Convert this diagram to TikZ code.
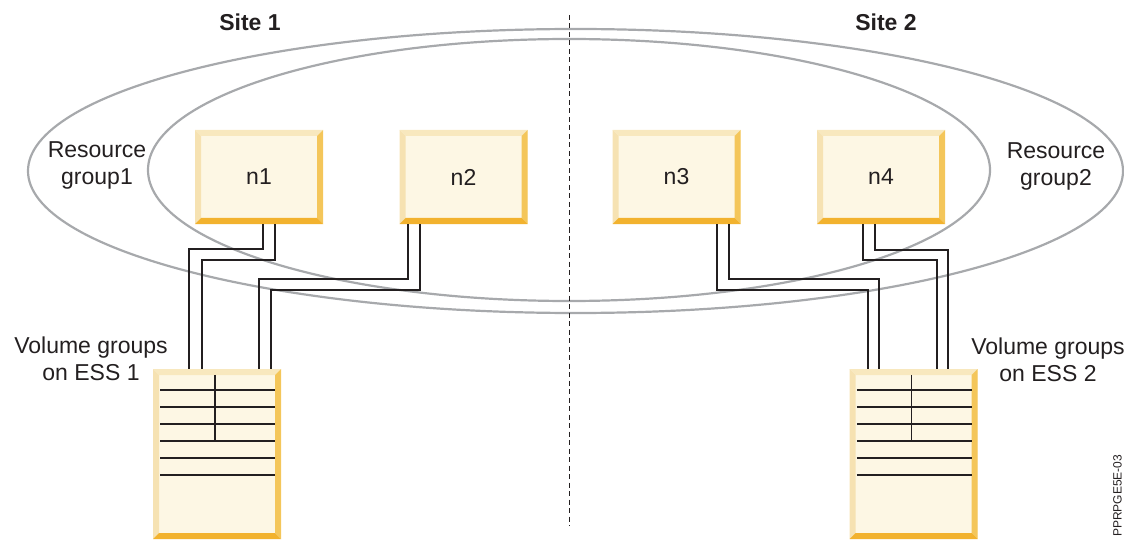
\documentclass[tikz,border=0pt]{standalone}
\usepackage{fontspec}
\setmainfont{Liberation Sans}
\usetikzlibrary{calc}
\definecolor{ink}{HTML}{231F20}
\definecolor{face}{HTML}{FDF7E4}
\definecolor{bevL}{HTML}{F6E2B2}
\definecolor{bevT}{HTML}{F8E8BE}
\definecolor{bevR}{HTML}{F4C65A}
\definecolor{bevB}{HTML}{F2B22E}
\definecolor{ring}{HTML}{A7A9AC}
\newcommand\lab{\fontsize{23}{27}\selectfont}
\begin{document}
\begin{tikzpicture}[x=1pt,y=-1pt,
  box/.style={rectangle, inner sep=0pt, fill=face, font=\lab, text=ink,
    path picture={
      \coordinate (bnw) at (path picture bounding box.north west);
      \coordinate (bne) at (path picture bounding box.north east);
      \coordinate (bsw) at (path picture bounding box.south west);
      \coordinate (bse) at (path picture bounding box.south east);
      \fill[bevL] (bnw) -- ([xshift=6pt,yshift=-6pt]bnw) -- ([xshift=6pt,yshift=6pt]bsw) -- (bsw) -- cycle;
      \fill[bevT] (bnw) -- (bne) -- ([xshift=-6pt,yshift=-6pt]bne) -- ([xshift=6pt,yshift=-6pt]bnw) -- cycle;
      \fill[bevR] (bne) -- (bse) -- ([xshift=-6pt,yshift=6pt]bse) -- ([xshift=-6pt,yshift=-6pt]bne) -- cycle;
      \fill[bevB] (bsw) -- (bse) -- ([xshift=-6pt,yshift=6pt]bse) -- ([xshift=6pt,yshift=6pt]bsw) -- cycle;
    }},
  nodebox/.style={box, minimum width=128pt, minimum height=94pt},
  essbox/.style={box, minimum width=128pt, minimum height=170pt},
  label/.style={font=\lab, text=ink, align=center, inner sep=0pt},
  site/.style={font=\lab\bfseries, text=ink, inner sep=0pt},
  cable/.style={draw=ink, line width=1.8pt},
  grid/.style={draw=ink, line width=1.4pt},
  group/.style={draw=ring, line width=2.2pt},
]
\useasboundingbox (0,0) rectangle (1124,540);

% resource group ellipses (nested)
\draw[group] (575.5,171) ellipse [x radius=547.5, y radius=142];
\draw[group] (569,170) ellipse [x radius=421, y radius=131];

% site divider
\coordinate (dtop) at (569,15);
\coordinate (dbot) at (569,526);
\draw[ink, line width=1pt, dash pattern=on 5pt off 3.5pt] (dtop) -- (dbot);

% site labels
\node[site] (s1) at (250,22) {Site 1};
\node[site] (s2) at (886,22) {Site 2};

% nodes
\node[nodebox] (n1) at (259,177) {n1};
\node[nodebox] (n2) at (463.5,177) {n2};
\node[nodebox] (n3) at (676.5,177) {n3};
\node[nodebox] (n4) at (881,177) {n4};

% storage
\node[essbox] (ess1) at (217,454) {};
\node[essbox] (ess2) at (913.5,454) {};

\foreach \e in {ess1,ess2}{
  \foreach \dy in {21,38,55,72,89,106}
    \draw[grid] ($(\e.north west)+(7.5,\dy)$) -- ($(\e.north east)+(-6,\dy)$);
  \draw[grid] ($(\e.north west)+(62,6)$) -- ($(\e.north west)+(62,72)$);
}

% cables
\draw[cable] ([xshift=4pt]n1.south) -- ++(0,25) -| ([xshift=-28pt]ess1.north);
\draw[cable] ([xshift=16pt]n1.south) -- ++(0,36) -| ([xshift=-15pt]ess1.north);
\draw[cable] ([xshift=-55.5pt]n2.south) -- ++(0,55) -| ([xshift=42pt]ess1.north);
\draw[cable] ([xshift=-43.5pt]n2.south) -- ++(0,66) -| ([xshift=54pt]ess1.north);
\draw[cable] ([xshift=40.5pt]n3.south) -- ++(0,66) -| ([xshift=-45.5pt]ess2.north);
\draw[cable] ([xshift=52.5pt]n3.south) -- ++(0,55) -| ([xshift=-34.5pt]ess2.north);
\draw[cable] ([xshift=-18pt]n4.south) -- ++(0,36) -| ([xshift=23.5pt]ess2.north);
\draw[cable] ([xshift=-6pt]n4.south) -- ++(0,26) -| ([xshift=34.5pt]ess2.north);

% labels
\node[label] (rg1) at (97,165) {Resource\\group1};
\node[label] (rg2) at (1056,166) {Resource\\group2};
\node[label] (vg1) at (91,359) {Volume groups\\on ESS 1};
\node[label] (vg2) at (1048,360) {Volume groups\\on ESS 2};

% figure id at the right edge
\node[font=\fontsize{12}{14}\selectfont, text=ink, rotate=90, anchor=south west, inner sep=0pt] (fid) at (1122,537) {PPRPGE5E-03};
\end{tikzpicture}
\end{document}
